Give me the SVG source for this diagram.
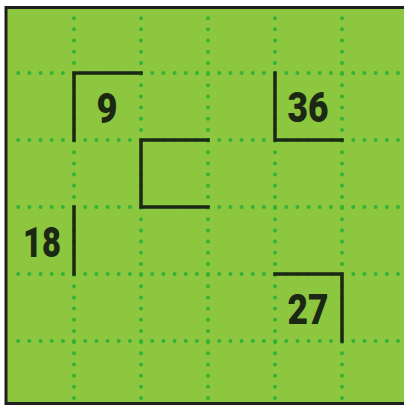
<svg xmlns="http://www.w3.org/2000/svg" width="404" height="407" viewBox="0 0 404 407">
<style>
.dot{stroke:#35b236;stroke-width:4;stroke-linecap:round;stroke-dasharray:0 11.17;fill:none}
.wall{stroke:#1b2814;stroke-width:3.5;fill:none;stroke-linecap:square}
.num{font-family:Roboto,"Liberation Sans",sans-serif;font-weight:900;font-size:42px;fill:#1b2814;text-anchor:middle}
</style>
<rect x="0" y="0" width="404" height="407" fill="#ffffff"/>
<rect id="board" x="6" y="7.5" width="404" height="396" fill="#8dc63f" stroke="#1e1e1e" stroke-width="3"/>
<g id="grid">
<path class="dot" d="M74 18.2V404M141 18.2V404M208 18.2V404M275 18.2V404M342 18.2V404"/>
<path class="dot" d="M18.2 73H404M18.2 140H404M18.2 207H404M18.2 274H404M18.2 341H404"/>
</g>
<g id="connectors">
<path class="wall" d="M74 140V73H141"/>
<path class="wall" d="M208 140H141V207H208"/>
<path class="wall" d="M275 73V140H342"/>
<path class="wall" d="M74 207V274"/>
<path class="wall" d="M275 274H342V341"/>
</g>
<g id="n9"><text class="num" x="107" y="123" textLength="21" lengthAdjust="spacingAndGlyphs">9</text></g>
<g id="n36"><text class="num" x="308" y="122" textLength="41" lengthAdjust="spacingAndGlyphs">36</text></g>
<g id="n18"><text class="num" x="42" y="257" textLength="38" lengthAdjust="spacingAndGlyphs">18</text></g>
<g id="n27"><text class="num" x="308" y="324" textLength="41" lengthAdjust="spacingAndGlyphs">27</text></g>
</svg>
